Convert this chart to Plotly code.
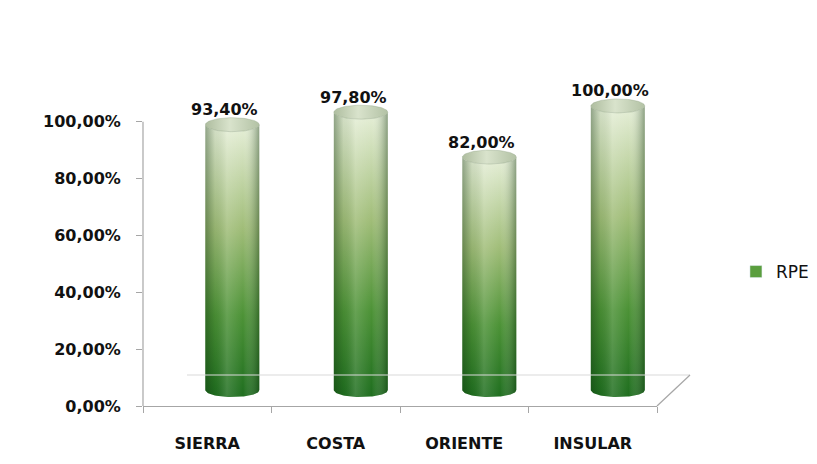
import numpy as np
import plotly.graph_objects as go

# ---------------- data ----------------
categories = ["SIERRA", "COSTA", "ORIENTE", "INSULAR"]
rpe_values = [0.934, 0.978, 0.820, 1.000]
series_name = "RPE"
y_tick_values = [0.0, 0.2, 0.4, 0.6, 0.8, 1.0]

# ---------------- styling / 3-D look (axis units) ----------------
DEPTH_DX = 0.195      # cylinders sit behind the front axis plane
DEPTH_DY = 0.056
RX = 0.21             # cylinder radius (x units)
RY = 0.0246           # ellipse half-height (y units)
FONT = "DejaVu Sans"
TXT = "#111111"
AXIS_GRAY = "#a6a6a6"

body_scale = [[0.0, "#1f6e1f"], [0.30, "#4c9236"], [0.62, "#a0bd78"], [1.0, "#e6efd8"]]
shade_scale = [[0.0, "rgba(10,45,10,0.38)"], [0.18, "rgba(10,45,10,0.08)"],
               [0.40, "rgba(255,255,255,0.15)"], [0.70, "rgba(255,255,255,0.0)"],
               [1.0, "rgba(10,45,10,0.40)"]]
cap_scale = [[0.0, "#aebd9f"], [0.45, "#d9e3cc"], [1.0, "#b3c2a5"]]


def fmt_pct(v):
    return f"{v * 100:.2f}".replace(".", ",") + "%"


fig = go.Figure()

# invisible bar trace registers the categories on the category axis
fig.add_trace(go.Bar(x=categories, y=rpe_values, marker=dict(color="rgba(0,0,0,0)",
                     line=dict(width=0)), showlegend=False, hoverinfo="skip",
                     xaxis="x", yaxis="y"))

t = np.linspace(0, np.pi, 48)
s = np.linspace(0, 2 * np.pi, 96)
for i, (cat, v) in enumerate(zip(categories, rpe_values)):
    c = i + DEPTH_DX
    base = DEPTH_DY
    top = base + v
    xs = [c - RX] + list(c - RX * np.cos(t)) + [c + RX] + list(c + RX * np.cos(t))
    ys = [base] + list(top - RY * np.sin(t)) + [base] + list(base - RY * np.sin(t))
    fig.add_trace(go.Scatter(
        x=xs, y=ys, mode="lines", fill="toself", line=dict(width=0),
        fillgradient=dict(type="vertical", colorscale=body_scale),
        name=cat, showlegend=False, hoverinfo="skip", xaxis="x2", yaxis="y"))
    fig.add_trace(go.Scatter(
        x=xs, y=ys, mode="lines", fill="toself", line=dict(width=0),
        fillgradient=dict(type="horizontal", colorscale=shade_scale),
        showlegend=False, hoverinfo="skip", xaxis="x2", yaxis="y"))
    fig.add_trace(go.Scatter(
        x=list(c + RX * np.cos(s)), y=list(top + RY * np.sin(s)), mode="lines",
        fill="toself", line=dict(width=0.6, color="rgba(140,160,130,0.6)"),
        fillgradient=dict(type="horizontal", colorscale=cap_scale),
        showlegend=False, name=cat, text=fmt_pct(v), hoverinfo="text",
        xaxis="x2", yaxis="y"))
    fig.add_annotation(x=c - 0.06, y=top, xref="x2", yref="y", yshift=15,
                       xanchor="center", text=fmt_pct(v), showarrow=False,
                       font=dict(family=FONT, size=16, color=TXT, weight="bold"))

# legend entry
fig.add_trace(go.Bar(x=[None], y=[None], name=series_name, marker_color="#5a9e3e",
                     xaxis="x", yaxis="y"))

# floor (3-D back edge) and y-axis line
floor_y = 31 / 341
shapes = [
    dict(type="line", xref="paper", yref="paper", x0=44 / 514, x1=547 / 514,
         y0=floor_y, y1=floor_y, line=dict(color="#d9d9d9", width=1.2)),
    dict(type="line", xref="paper", yref="paper", x0=1.0, x1=547 / 514,
         y0=0, y1=floor_y, line=dict(color=AXIS_GRAY, width=1.2)),
    dict(type="line", xref="paper", yref="paper", x0=0, x1=0,
         y0=0, y1=1 / 1.2, line=dict(color=AXIS_GRAY, width=1.2)),
]

fig.update_layout(
    width=817, height=464,
    margin=dict(l=135, r=168, t=57, b=66),
    paper_bgcolor="white", plot_bgcolor="white",
    separators=",.",
    barmode="overlay",
    shapes=shapes,
    showlegend=True,
    legend=dict(xref="container", yref="container", x=0.891, xanchor="left",
                y=1 - 264 / 464, yanchor="middle",
                font=dict(family=FONT, size=17, color=TXT), itemwidth=30,
                bgcolor="rgba(0,0,0,0)"),
    xaxis=dict(type="category", categoryorder="array", categoryarray=categories,
               range=[-0.5, 3.5], tickson="boundaries", ticks="outside", ticklen=6,
               tickcolor=AXIS_GRAY, showline=True, linecolor=AXIS_GRAY, linewidth=1.2,
               showgrid=False, zeroline=False, ticklabelstandoff=23,
               tickfont=dict(family=FONT, size=16, color=TXT, weight="bold"),
               fixedrange=True),
    xaxis2=dict(overlaying="x", anchor="y", range=[-0.5, 3.5], visible=False,
                fixedrange=True),
    yaxis=dict(range=[0, 1.2], tickvals=y_tick_values, tickformat=".2%",
               showline=False, ticks="outside", ticklen=6, tickcolor=AXIS_GRAY,
               showgrid=False, zeroline=False, ticklabelstandoff=12,
               tickfont=dict(family=FONT, size=16, color=TXT, weight="bold"),
               fixedrange=True),
)

fig.write_html("out.html")
